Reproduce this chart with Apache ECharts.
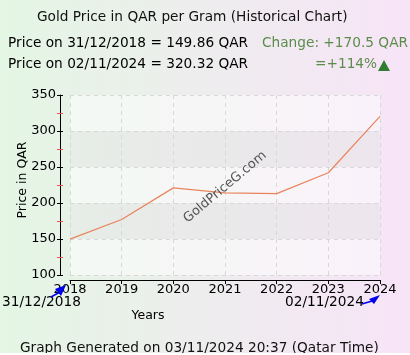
<!DOCTYPE html>
<html><head><meta charset="utf-8">
<script src="https://cdn.jsdelivr.net/npm/echarts@6/dist/echarts.min.js"></script>
<style>html,body{margin:0;padding:0;}#c{width:410px;height:355px;}</style>
</head><body><div id="c"></div>
<script>
var categories = ['2018','2019','2020','2021','2022','2023','2024'];
var prices = [149.86, 177, 221, 214, 213, 242, 320.32];
var yTicks = [100, 150, 200, 250, 300, 350];

var F = 'DejaVu Sans';
var TF = '13.7px "DejaVu Sans"';
var chart = echarts.init(document.getElementById('c'));
var yBase = {
  type:'value', min:yTicks[0], max:yTicks[yTicks.length-1], interval:50, position:'left', offset:10
};
var minor = {show:true, splitNumber:2, length:3, lineStyle:{color:'#f05050', width:1}};
var option = {
  animation: false,
  backgroundColor: {type:'linear', x:0, y:0, x2:1, y2:0, colorStops:[{offset:0,color:'#e4f6e4'},{offset:1,color:'#f7e4f7'}]},
  grid: {left:70, right:30, top:95, bottom:80, show:true, borderWidth:0, backgroundColor:'rgba(255,255,255,0.25)'},
  xAxis: {
    type:'category', data:categories, boundaryGap:false, offset:5,
    axisLine:{lineStyle:{color:'#000', width:1}},
    axisTick:{show:true, length:4, lineStyle:{color:'#000'}},
    axisLabel:{color:'#000', fontFamily:F, fontSize:13, margin:3},
    splitLine:{show:true, lineStyle:{color:'#d8d8d8', type:[4,4]}},
    name:'Years', nameLocation:'middle', nameGap:29, nameTextStyle:{color:'#000', fontFamily:F, fontSize:12.5, padding:[0,154,0,0]}
  },
  yAxis: [
    Object.assign({}, yBase, {
      axisLine:{show:true, lineStyle:{color:'#000', width:1}},
      axisTick:{show:true, length:3, lineStyle:{color:'#000'}},
      minorTick:minor,
      axisLabel:{color:'#000', fontFamily:F, fontSize:13, margin:4},
      splitLine:{show:true, lineStyle:{color:'#d8d8d8', type:[4,4]}},
      splitArea:{show:true, areaStyle:{color:['rgba(255,255,255,0.35)','rgba(215,215,215,0.3)']}}
    }),
    Object.assign({}, yBase, {
      axisLine:{show:false},
      axisTick:{show:true, inside:true, length:3, lineStyle:{color:'#000'}},
      minorTick:minor,
      axisLabel:{show:false}, splitLine:{show:false}
    })
  ],
  series: [{
    type:'line', data:prices, symbol:'none', yAxisIndex:0,
    lineStyle:{color:'#e8845c', width:1.2}
  }]
};
chart.setOption(option);

var p0 = chart.convertToPixel({gridIndex:0}, [0, yTicks[0]]);
var p6 = chart.convertToPixel({gridIndex:0}, [6, yTicks[0]]);
var cx = chart.convertToPixel({gridIndex:0}, [3, 222]);
chart.setOption({
  graphic: [
    {type:'text', left:37, top:10, style:{text:'Gold Price in QAR per Gram (Historical Chart)', font:TF, fill:'#111'}, z:10},
    {type:'text', left:8, top:36, style:{text:'Price on 31/12/2018 = 149.86 QAR', font:TF, fill:'#000'}},
    {type:'text', left:8, top:57, style:{text:'Price on 02/11/2024 = 320.32 QAR', font:TF, fill:'#000'}},
    {type:'text', left:262, top:36, style:{text:'Change: +170.5 QAR', font:TF, fill:'#5b8c4a'}},
    {type:'text', left:315, top:57, style:{text:'=+114%', font:TF, fill:'#5b8c4a'}},
    {type:'polygon', shape:{points:[[384,60],[378,71],[390,71]]}, style:{fill:'#2f7d2f'}},
    {type:'text', x:23, y:180, rotation:Math.PI/2, style:{text:'Price in QAR', font:'12.5px "DejaVu Sans"', fill:'#000', align:'center', verticalAlign:'middle'}},
    {type:'text', x:cx[0], y:cx[1], rotation:Math.PI*40/180, style:{text:'GoldPriceG.com', font:'13px "DejaVu Sans"', fill:'#555', align:'center', verticalAlign:'middle'}, z:20},
    {type:'text', left:2, top:295, style:{text:'31/12/2018', font:TF, fill:'#000'}},
    {type:'text', left:285, top:295, style:{text:'02/11/2024', font:TF, fill:'#000'}},
    {type:'line', shape:{x1:p0[0]-19, y1:p0[1]+22, x2:p0[0]-10, y2:p0[1]+17}, style:{stroke:'#0000ee', lineWidth:1.5}, z:30},
    {type:'polygon', shape:{points:[[p0[0]-4,p0[1]+10],[p0[0]-15,p0[1]+14],[p0[0]-9,p0[1]+21]]}, style:{fill:'#0000ee'}, z:30},
    {type:'line', shape:{x1:p6[0]-18, y1:p6[1]+29, x2:p6[0]-8, y2:p6[1]+26}, style:{stroke:'#0000ee', lineWidth:1.5}, z:30},
    {type:'polygon', shape:{points:[[p6[0],p6[1]+20],[p6[0]-11,p6[1]+24],[p6[0]-6,p6[1]+29]]}, style:{fill:'#0000ee'}, z:30},
    {type:'text', left:20, top:341, style:{text:'Graph Generated on 03/11/2024 20:37 (Qatar Time)', font:TF, fill:'#111'}},
    {type:'rect', shape:{x:0, y:353, width:410, height:2}, style:{fill:'#fff'}}
  ]
});
</script></body></html>
